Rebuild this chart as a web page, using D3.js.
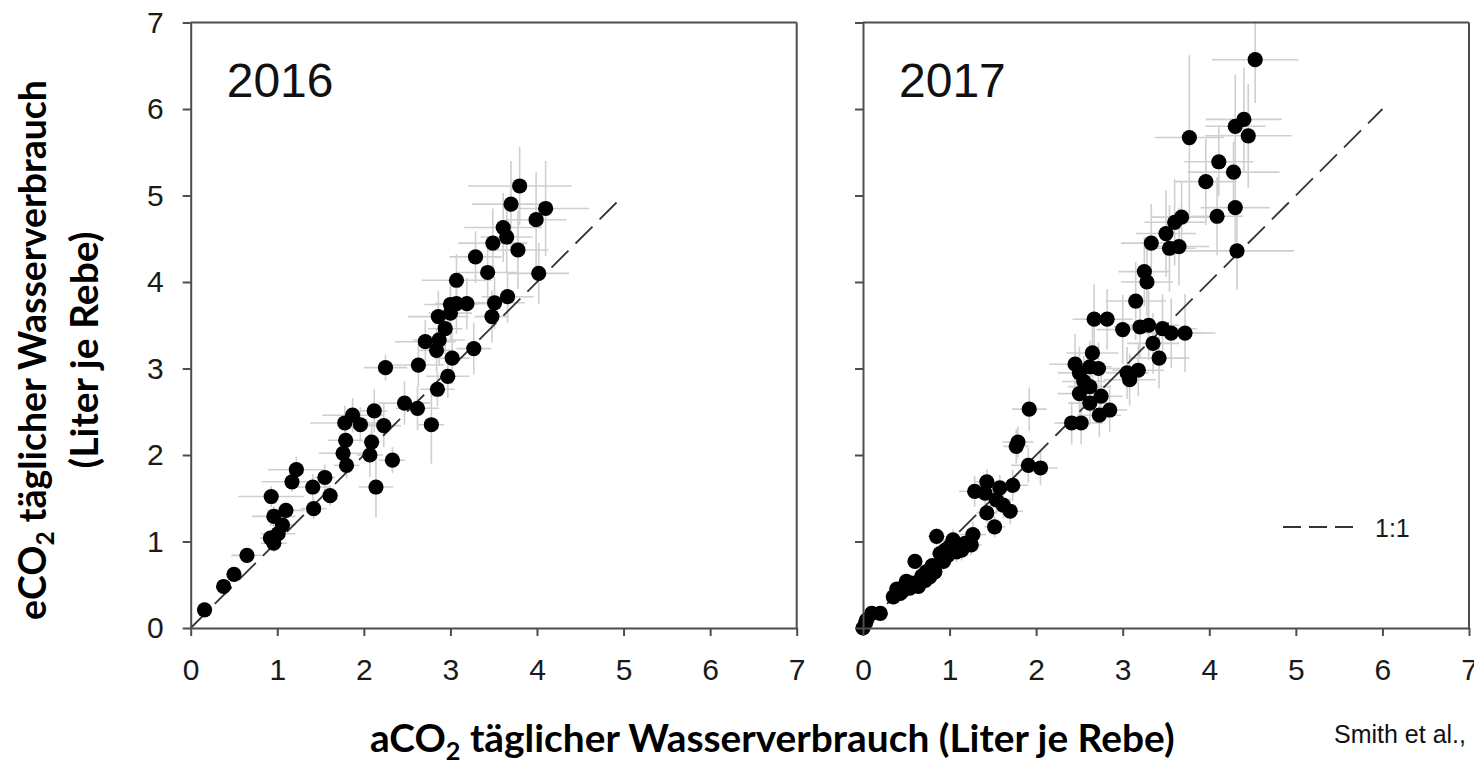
<!DOCTYPE html>
<html>
<head>
<meta charset="utf-8">
<script src="https://cdn.jsdelivr.net/npm/d3@7"></script>
<style>
  body { margin: 0; background: #fff; }
  svg { display: block; }
</style>
</head>
<body>
<svg></svg>
<script>
// values (Liter je Rebe)
const ticks = [0, 1, 2, 3, 4, 5, 6, 7];

const x2016 = [0.16, 0.38, 0.50, 0.65, 0.92, 0.96, 0.93, 0.96, 1.01, 1.06, 1.10, 1.17, 1.22, 1.41, 1.42, 1.55,
    1.61, 1.76, 1.79, 1.80, 1.78, 1.87, 1.96, 2.07, 2.09, 2.12, 2.14, 2.23, 2.25, 2.33, 2.47, 2.62,
    2.63, 2.78, 2.71, 2.85, 2.86, 2.87, 2.84, 2.94, 2.97, 3.00, 3.02, 3.00, 3.07, 3.19, 3.07, 3.27,
    3.29, 3.43, 3.48, 3.51, 3.49, 3.61, 3.65, 3.66, 3.70, 3.78, 3.80, 3.99, 4.02, 4.10];
const y2016 = [0.21, 0.48, 0.62, 0.84, 1.04, 0.98, 1.52, 1.29, 1.09, 1.19, 1.36, 1.69, 1.83, 1.63, 1.38, 1.74,
    1.53, 2.02, 2.17, 1.88, 2.37, 2.46, 2.35, 2.00, 2.15, 2.51, 1.63, 2.34, 3.01, 1.94, 2.60, 2.54,
    3.04, 2.35, 3.31, 2.76, 3.60, 3.33, 3.21, 3.46, 2.91, 3.64, 3.12, 3.74, 3.75, 3.75, 4.02, 3.23,
    4.29, 4.11, 3.60, 3.76, 4.45, 4.63, 4.52, 3.83, 4.90, 4.37, 5.11, 4.72, 4.10, 4.85];
const xErr2016 = [0.03, 0.05, 0.06, 0.18, 0.12, 0.15, 0.38, 0.25, 0.20, 0.15, 0.22, 0.35, 0.33, 0.20, 0.15, 0.12,
    0.10, 0.28, 0.20, 0.15, 0.40, 0.35, 0.20, 0.15, 0.10, 0.15, 0.20, 0.20, 0.25, 0.15, 0.30, 0.25,
    0.30, 0.15, 0.35, 0.20, 0.35, 0.30, 0.20, 0.20, 0.25, 0.25, 0.20, 0.30, 0.25, 0.25, 0.40, 0.20,
    0.30, 0.35, 0.20, 0.35, 0.40, 0.45, 0.30, 0.30, 0.45, 0.35, 0.60, 0.35, 0.35, 0.50];
const yErr2016 = [0.03, 0.05, 0.06, 0.08, 0.10, 0.10, 0.12, 0.12, 0.10, 0.12, 0.10, 0.12, 0.15, 0.15, 0.12, 0.15,
    0.12, 0.15, 0.20, 0.15, 0.20, 0.20, 0.20, 0.25, 0.20, 0.25, 0.35, 0.25, 0.15, 0.15, 0.25, 0.25,
    0.25, 0.45, 0.25, 0.20, 0.30, 0.30, 0.25, 0.30, 0.25, 0.30, 0.30, 0.30, 0.35, 0.30, 0.30, 0.30,
    0.30, 0.35, 0.30, 0.30, 0.40, 0.40, 0.40, 0.30, 0.50, 0.45, 0.45, 0.55, 0.35, 0.55];

const x2017 = [0.00, 0.03, 0.04, 0.10, 0.20, 0.35, 0.39, 0.43, 0.45, 0.50, 0.54, 0.56, 0.60, 0.64, 0.68, 0.72,
    0.73, 0.77, 0.80, 0.83, 0.85, 0.89, 0.93, 0.95, 0.98, 1.00, 1.04, 1.08, 1.14, 1.18, 1.25, 1.27,
    1.29, 1.41, 1.43, 1.43, 1.52, 1.54, 1.58, 1.62, 1.70, 1.73, 1.77, 1.79, 1.91, 1.92, 2.05,
    2.41, 2.52, 2.50, 2.62, 2.62, 2.73, 2.75, 2.85, 2.45, 2.50, 2.55, 2.62, 2.65, 2.67, 2.82, 2.72,
    3.00, 3.05, 3.08, 3.18, 3.15, 3.25, 3.28, 3.20, 3.30, 3.35, 3.42, 3.46, 3.56, 3.72, 3.33, 3.50,
    3.54, 3.60, 3.65, 3.68, 3.77, 3.96, 4.09, 4.11, 4.28, 4.30, 4.30, 4.32, 4.40, 4.45, 4.53];
const y2017 = [0.00, 0.06, 0.09, 0.17, 0.17, 0.36, 0.45, 0.40, 0.42, 0.54, 0.46, 0.52, 0.77, 0.48, 0.60, 0.55,
    0.65, 0.59, 0.72, 0.65, 1.06, 0.86, 0.77, 0.90, 0.84, 0.94, 1.02, 0.88, 0.90, 0.98, 0.96, 1.08,
    1.58, 1.56, 1.69, 1.33, 1.17, 1.48, 1.62, 1.42, 1.35, 1.65, 2.10, 2.15, 1.88, 2.53, 1.85,
    2.37, 2.37, 2.71, 2.60, 2.79, 2.46, 2.68, 2.52, 3.05, 2.95, 2.85, 3.02, 3.18, 3.57, 3.57, 3.00,
    3.45, 2.95, 2.87, 2.98, 3.78, 4.12, 4.00, 3.48, 3.50, 3.29, 3.12, 3.46, 3.41, 3.41, 4.45, 4.56,
    4.39, 4.69, 4.41, 4.75, 5.67, 5.16, 4.76, 5.39, 5.27, 4.86, 5.80, 4.36, 5.88, 5.69, 6.57];
const xErr2017 = [0.02, 0.02, 0.03, 0.03, 0.04, 0.05, 0.05, 0.05, 0.05, 0.06, 0.06, 0.06, 0.07, 0.07, 0.07, 0.08,
    0.08, 0.08, 0.08, 0.09, 0.10, 0.10, 0.10, 0.10, 0.10, 0.10, 0.12, 0.12, 0.12, 0.12, 0.12, 0.15,
    0.18, 0.15, 0.15, 0.12, 0.12, 0.15, 0.15, 0.15, 0.15, 0.18, 0.15, 0.18, 0.20, 0.20, 0.20,
    0.20, 0.25, 0.25, 0.25, 0.25, 0.25, 0.25, 0.20, 0.30, 0.25, 0.25, 0.25, 0.30, 0.25, 0.30, 0.25,
    0.30, 0.25, 0.30, 0.30, 0.35, 0.30, 0.30, 0.30, 0.35, 0.30, 0.35, 0.40, 0.40, 0.35, 0.35, 0.35,
    0.30, 0.35, 0.35, 0.35, 0.40, 0.35, 0.30, 0.40, 0.53, 0.40, 0.35, 0.66, 0.44, 0.50, 0.50];
const yErr2017 = [0.02, 0.02, 0.03, 0.03, 0.04, 0.05, 0.05, 0.05, 0.05, 0.06, 0.06, 0.06, 0.07, 0.07, 0.07, 0.08,
    0.08, 0.08, 0.08, 0.09, 0.10, 0.10, 0.10, 0.10, 0.10, 0.10, 0.12, 0.12, 0.12, 0.12, 0.12, 0.15,
    0.18, 0.15, 0.15, 0.12, 0.12, 0.15, 0.15, 0.15, 0.15, 0.18, 0.20, 0.18, 0.20, 0.25, 0.20,
    0.25, 0.25, 0.30, 0.25, 0.30, 0.25, 0.30, 0.25, 0.35, 0.30, 0.30, 0.30, 0.35, 0.40, 0.35, 0.30,
    0.40, 0.30, 0.30, 0.30, 0.45, 0.40, 0.40, 0.35, 0.40, 0.35, 0.35, 0.40, 0.40, 0.45, 0.45, 0.50,
    0.50, 0.50, 0.45, 0.40, 0.95, 0.50, 0.45, 0.40, 0.35, 0.40, 0.60, 0.45, 0.60, 0.60, 0.50];

const years = ["2016", "2017"];
const lineMax = [5, 6];

const svg = d3.select("svg")
    .attr("width", 1474)
    .attr("height", 765);

const plotTop = 22.5;
const plotBottom = 628;
const plotWidth = 606;
const axisColor = "#4d4d4d";
const tickFont = "'Liberation Sans', Arial, sans-serif";

const panels = [
    { year: years[0], xs: x2016, ys: y2016, xe: xErr2016, ye: yErr2016, left: 190.7, labels: true, max: lineMax[0] },
    { year: years[1], xs: x2017, ys: y2017, xe: xErr2017, ye: yErr2017, left: 863, labels: false, max: lineMax[1] },
];

panels.forEach((p, pi) => {
    const x = d3.scaleLinear().domain([0, 7]).range([p.left, p.left + plotWidth]);
    const y = d3.scaleLinear().domain([0, 7]).range([plotBottom, plotTop]);
    const g = svg.append("g");

    g.append("clipPath").attr("id", "clip" + pi)
        .append("rect")
        .attr("x", x(0)).attr("y", y(7))
        .attr("width", x(7) - x(0)).attr("height", y(0) - y(7));

    const pts = p.xs.map((v, i) => ({ x: v, y: p.ys[i], xe: p.xe[i], ye: p.ye[i] }));

    const bars = g.append("g")
        .attr("clip-path", `url(#clip${pi})`)
        .attr("stroke", "#cfcfcf")
        .attr("stroke-width", 1.6);

    bars.selectAll("line.h").data(pts).enter().append("line")
        .attr("x1", d => x(d.x - d.xe)).attr("x2", d => x(d.x + d.xe))
        .attr("y1", d => y(d.y)).attr("y2", d => y(d.y));
    bars.selectAll("line.v").data(pts).enter().append("line")
        .attr("x1", d => x(d.x)).attr("x2", d => x(d.x))
        .attr("y1", d => y(d.y - d.ye)).attr("y2", d => y(d.y + d.ye));

    // 1:1 line
    g.append("path")
        .datum([0, p.max])
        .attr("d", d3.line().x(d => x(d)).y(d => y(d)))
        .attr("fill", "none")
        .attr("stroke", "#333")
        .attr("stroke-width", 1.8)
        .attr("stroke-dasharray", "24,10");

    g.append("g").selectAll("circle").data(pts).enter().append("circle")
        .attr("cx", d => x(d.x))
        .attr("cy", d => y(d.y))
        .attr("r", 7.6)
        .attr("fill", "#000");

    // frame top + right
    g.append("line").attr("x1", x(0)).attr("x2", x(7)).attr("y1", y(7)).attr("y2", y(7))
        .attr("stroke", axisColor).attr("stroke-width", 2);
    g.append("line").attr("x1", x(7)).attr("x2", x(7)).attr("y1", y(7)).attr("y2", y(0))
        .attr("stroke", axisColor).attr("stroke-width", 2);

    const xAxis = g.append("g")
        .attr("transform", `translate(0,${y(0)})`)
        .call(d3.axisBottom(x).tickValues(ticks).tickSize(8).tickSizeOuter(0).tickPadding(23).tickFormat(d3.format("d")));

    const yAxis = g.append("g")
        .attr("transform", `translate(${x(0)},0)`)
        .call(d3.axisLeft(y).tickValues(ticks).tickSize(8).tickSizeOuter(0).tickPadding(19)
            .tickFormat(p.labels ? d3.format("d") : () => ""));

    [xAxis, yAxis].forEach(a => {
        a.attr("font-family", tickFont).attr("font-size", 30);
        a.selectAll("path, line").attr("stroke", axisColor).attr("stroke-width", 2);
        a.selectAll("text").attr("fill", "#1a1a1a");
    });

    g.append("text")
        .attr("x", x(0) + 36)
        .attr("y", 97)
        .attr("font-family", tickFont)
        .attr("font-size", 48)
        .attr("fill", "#111")
        .text(p.year);

    if (pi === 1) {
        const leg = g.append("g");
        leg.append("line")
            .attr("x1", 1283).attr("x2", 1353).attr("y1", 527).attr("y2", 527)
            .attr("stroke", "#333").attr("stroke-width", 2).attr("stroke-dasharray", "18,8");
        leg.append("text")
            .attr("x", 1375).attr("y", 537)
            .attr("font-family", tickFont).attr("font-size", 25).attr("fill", "#1a1a1a")
            .text("1:1");
    }
});

// axis titles with subscript 2
const titleFont = "Lato, 'Open Sans', sans-serif";

function title(parts, size) {
    const t = svg.append("text")
        .attr("font-family", titleFont)
        .attr("font-weight", "bold")
        .attr("font-size", size)
        .attr("fill", "#000");
    t.append("tspan").text(parts[0]);
    if (parts.length > 1) {
        t.append("tspan").text("2").attr("font-size", size * 0.65).attr("dy", 8);
        t.append("tspan").text(parts[1]).attr("dy", -8);
    }
    return t;
}

function fit(t, target, tx, ty, rot) {
    const w = t.node().getComputedTextLength();
    t.attr("transform", `translate(${tx},${ty}) rotate(${rot}) scale(${target / w},1)`);
}

const xTitle = title(["aCO", " täglicher Wasserverbrauch (Liter je Rebe)"], 38);
fit(xTitle, 805, 370, 752, 0);

const yTitle1 = title(["eCO", " täglicher Wasserverbrauch"], 38).attr("text-anchor", "middle");
fit(yTitle1, 540, 46, 350, -90);

const yTitle2 = title(["(Liter je Rebe)"], 38).attr("text-anchor", "middle");
fit(yTitle2, 237, 98, 350, -90);

svg.append("text")
    .attr("x", 1334)
    .attr("y", 743)
    .attr("font-family", tickFont)
    .attr("font-size", 25)
    .attr("fill", "#111")
    .text("Smith et al.,");
</script>
</body>
</html>
